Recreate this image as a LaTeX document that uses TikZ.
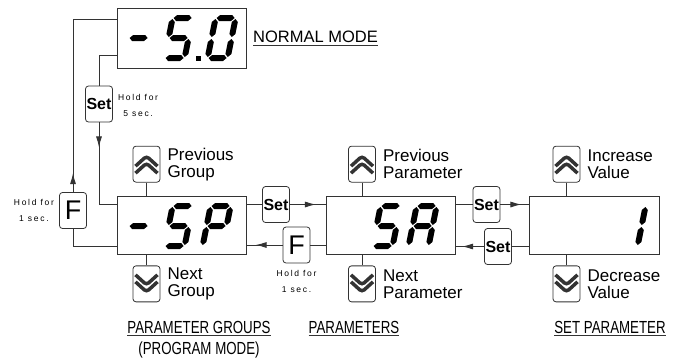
\documentclass[tikz,border=0pt]{standalone}
\usepackage{fontspec}
\setmainfont{Liberation Sans}
\newfontfamily\holdfont[LetterSpace=20]{Liberation Sans}
\usetikzlibrary{positioning,arrows.meta}

% seven segment bars, local frame 25 x 46, y up
\newcommand\segh[3]{\fill (#1,#3) -- ++(3,3) -- (#2-3,#3+3) -- (#2,#3) -- ++(-3,-3) -- (#1+3,#3-3) -- cycle;}
\newcommand\segv[3]{\fill (#1,#2) -- ++(3,3) -- (#1+3,#3-3) -- (#1,#3) -- ++(-3,-3) -- (#1-3,#2+3) -- cycle;}
\expandafter\def\csname seg@a\endcsname{\segh{4}{22}{43}}
\expandafter\def\csname seg@b\endcsname{\segv{23}{24}{42}}
\expandafter\def\csname seg@c\endcsname{\segv{23}{4}{22}}
\expandafter\def\csname seg@d\endcsname{\segh{4}{22}{3}}
\expandafter\def\csname seg@e\endcsname{\segv{3}{4}{22}}
\expandafter\def\csname seg@f\endcsname{\segv{3}{24}{42}}
\expandafter\def\csname seg@g\endcsname{\segh{4}{22}{23}}
% \sevseg{x}{y bottom}{segments}
\newcommand\sevseg[3]{%
  \begin{scope}[shift={(#1,#2)}, xslant=0.2, yscale=-1]
    \foreach \s in {#3} {\csname seg@\s\endcsname}
  \end{scope}}

\tikzset{
  % LED display window
  disp/.style    = {rectangle, draw=black!80, line width=0.9pt, inner sep=0pt,
                    minimum width=129pt, minimum height=58pt},
  % front panel key
  key/.style     = {rectangle, rounded corners=3pt, draw=black!80, line width=0.8pt,
                    inner sep=0pt, minimum width=27pt, minimum height=36pt},
  setkey/.style  = {key, font=\fontsize{16}{16}\selectfont\bfseries},
  fkey/.style    = {key, font=\fontsize{27}{27}\selectfont},
  upkey/.style   = {key, path picture={
                      \draw[line width=3.5pt, shift={(path picture bounding box.center)}]
                        (-11,2) -- (0,-8) -- (11,2) (-11,9) -- (0,-1) -- (11,9);}},
  downkey/.style = {key, path picture={
                      \draw[line width=3.5pt, shift={(path picture bounding box.center)}]
                        (-11,-2) -- (0,8) -- (11,-2) (-11,-9) -- (0,1) -- (11,-9);}},
  % texts
  keytext/.style = {align=left, inner sep=0pt, font=\fontsize{17}{17}\selectfont},
  hold/.style    = {align=center, inner sep=0pt, font=\fontsize{8.5}{16}\holdfont},
  mode/.style    = {inner xsep=0pt, inner ysep=2.5pt, font=\fontsize{16.5}{16.5}\selectfont},
  title/.style   = {mode, xscale=0.76, transform shape, font=\fontsize{17.5}{17.5}\selectfont},
  % connectors
  wire/.style    = {draw=black!80, line width=0.9pt},
  tip/.style     = {wire, -{Latex[length=11pt,width=6pt]}},
}

\begin{document}
\begin{tikzpicture}[x=1pt, y=-1pt]
  \useasboundingbox (0,0) rectangle (692,362);

  % displays
  \node[disp, minimum height=60pt] (normal) at (181.5,38) {};
  \node[disp] (grp)  at (181.5,225) {};
  \node[disp] (par)  at (390.5,225) {};
  \node[disp, minimum width=130pt] (setp) at (594,225) {};

  \sevseg{121}{61}{g}
  \sevseg{161}{61}{a,f,g,c,d}
  \fill (196,55.5) rectangle ++(5,5);
  \sevseg{204}{61}{a,b,c,d,e,f}

  \sevseg{121}{249}{g}
  \sevseg{161}{249}{a,f,g,c,d}
  \sevseg{199}{249}{a,b,f,g,e}

  \sevseg{369}{249}{a,f,g,c,d}
  \sevseg{405}{249}{a,b,c,e,f,g}

  \sevseg{614}{249}{b,c}

  \node[mode, anchor=west] (normtxt) at (253,37) {NORMAL MODE};
  \draw[wire] (normtxt.south west) -- (normtxt.south east);

  % keys above / below the displays
  \node[upkey, above=13pt of grp, xshift=-35pt] (upG) {};
  \node[downkey, below=11pt of grp, xshift=-35pt] (dnG) {};
  \node[upkey, above=13pt of par, xshift=-28.5pt] (upP) {};
  \node[downkey, below=11pt of par, xshift=-28.5pt] (dnP) {};
  \node[upkey, above=13pt of setp, xshift=-27.5pt] (upV) {};
  \node[downkey, below=11pt of setp, xshift=-27.5pt] (dnV) {};

  \node[keytext, right=7pt of upG] (upGtxt) {Previous\\Group};
  \node[keytext, right=7pt of dnG] (dnGtxt) {Next\\Group};
  \node[keytext, right=7pt of upP] (upPtxt) {Previous\\Parameter};
  \node[keytext, right=7pt of dnP] (dnPtxt) {Next\\Parameter};
  \node[keytext, right=7pt of upV] (upVtxt) {Increase\\Value};
  \node[keytext, right=7pt of dnV] (dnVtxt) {Decrease\\Value};

  % keys on the connectors
  \node[setkey] (set5) at (99,104) {Set};
  \node[fkey] (f1) at (73,210.5) {F};
  \node[setkey] (set1) at (276,204.5) {Set};
  \node[fkey] (fB) at (296.5,245) {F};
  \node[setkey] (set2) at (486.5,204.5) {Set};
  \node[setkey] (set3) at (498,246.5) {Set};

  \node[hold, right=5pt of set5, yshift=-1pt] (hold5) {Hold for\\5 sec.};
  \node[hold, left=5pt of f1] (holdF1) {Hold for\\1 sec.};
  \node[hold, below=7pt of fB] (holdFB) {Hold for\\1 sec.};

  % --- connectors ---
  \draw[wire] (upG) -- (upG |- grp.north);
  \draw[wire] (dnG) -- (dnG |- grp.south);
  \draw[wire] (upP) -- (upP |- par.north);
  \draw[wire] (dnP) -- (dnP |- par.south);
  \draw[wire] (upV) -- (upV |- setp.north);
  \draw[wire] (dnV) -- (dnV |- setp.south);

  % program mode <-> normal mode
  \draw[wire] ([yshift=-12pt]normal.north west) -| (f1.north);
  \draw[wire] (f1.south) |- ([yshift=8pt]grp.south west);
  \draw[tip] (f1.north) -- ++(0,-19);
  \draw[wire] ([yshift=13pt]normal.south west) -| (set5.north);
  \draw[wire] (set5.south) |- ([yshift=-9pt]grp.north west);
  \draw[tip] (set5.south) -- ++(0,25);

  % groups <-> parameters <-> value
  \draw[wire] (grp.east |- set1) -- (set1.west);
  \draw[wire] (set1.east) -- (par.west |- set1);
  \draw[tip] (set1.east) -- ++(26,0);
  \draw[wire] (par.west |- fB) -- (fB.east);
  \draw[wire] (fB.west) -- (grp.east |- fB);
  \draw[tip] (fB.west) -- ++(-27,0);
  \draw[wire] (par.east |- set2) -- (set2.west);
  \draw[wire] (set2.east) -- (setp.west |- set2);
  \draw[tip] (set2.east) -- ++(21,0);
  \draw[wire] (setp.west |- set3) -- (set3.east);
  \draw[wire] (set3.west) -- (par.east |- set3);
  \draw[tip] (set3.west) -- ++(-22,0);

  % titles
  \node[title] (grptxt) at (199,327) {PARAMETER GROUPS};
  \draw[wire] (grptxt.south west) -- (grptxt.south east);
  \node[title, below=3pt of grptxt] (progtxt) {(PROGRAM MODE)};
  \node[title] (partxt) at (354,327) {PARAMETERS};
  \draw[wire] (partxt.south west) -- (partxt.south east);
  \node[title] (setptxt) at (610,327) {SET PARAMETER};
  \draw[wire] (setptxt.south west) -- (setptxt.south east);
\end{tikzpicture}
\end{document}
